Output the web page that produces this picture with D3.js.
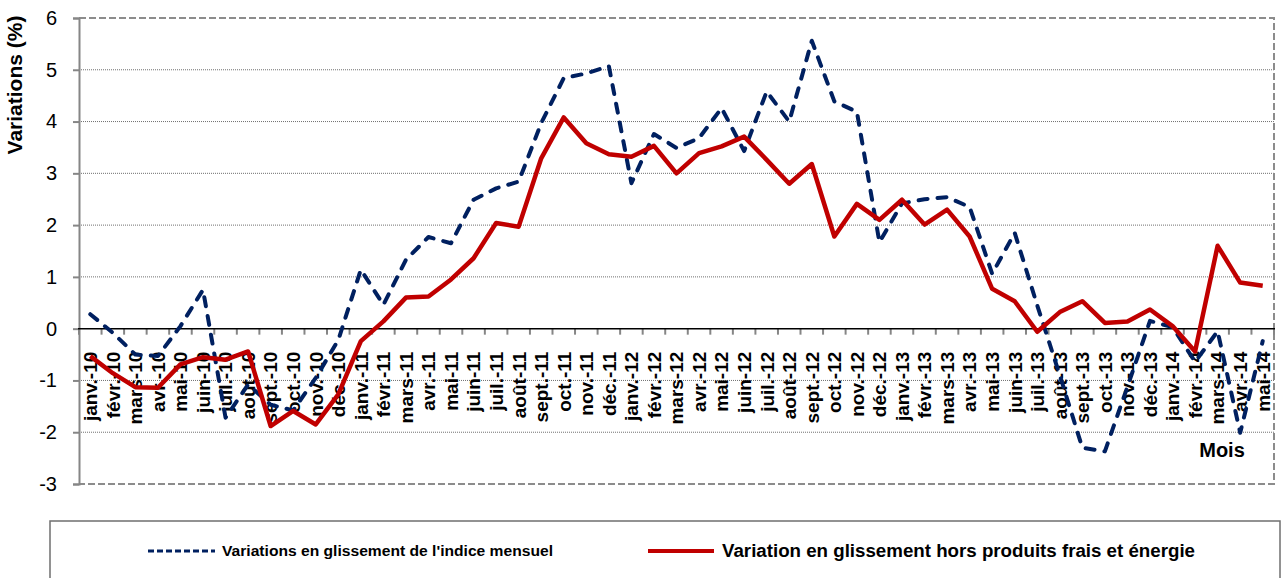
<!DOCTYPE html>
<html>
<head>
<meta charset="utf-8">
<script src="https://cdn.jsdelivr.net/npm/d3@7"></script>
<style>
    body { margin: 0; background: #fff; }
    svg { display: block; font-family: "Liberation Sans", Arial, sans-serif; }
</style>
</head>
<body>
<div id="chart"></div>
<script>
let months = ["janv.-10", "févr.-10", "mars-10", "avr.-10", "mai-10", "juin-10", "juil.-10", "août-10", "sept.-10", "oct.-10", "nov.-10", "déc.-10",
    "janv.-11", "févr.-11", "mars-11", "avr.-11", "mai-11", "juin-11", "juil.-11", "août-11", "sept.-11", "oct.-11", "nov.-11", "déc.-11",
    "janv.-12", "févr.-12", "mars-12", "avr.-12", "mai-12", "juin-12", "juil.-12", "août-12", "sept.-12", "oct.-12", "nov.-12", "déc.-12",
    "janv.-13", "févr.-13", "mars-13", "avr.-13", "mai-13", "juin-13", "juil.-13", "août-13", "sept.-13", "oct.-13", "nov.-13", "déc.-13",
    "janv.-14", "févr.-14", "mars-14", "avr.-14", "mai-14"]

// glissement de l'indice mensuel (pointillés)
let indiceMensuel = [0.28, -0.08, -0.50, -0.53, 0.05, 0.75, -1.72, -1.08, -1.47, -1.58, -0.95, -0.22,
    1.14, 0.46, 1.33, 1.77, 1.65, 2.49, 2.71, 2.84, 3.97, 4.84, 4.93, 5.07,
    2.81, 3.76, 3.49, 3.68, 4.26, 3.43, 4.58, 4.00, 5.56, 4.39, 4.19, 1.67,
    2.42, 2.50, 2.54, 2.35, 1.06, 1.85, 0.45, -0.90, -2.30, -2.37, -1.12, 0.15,
    0.03, -0.64, -0.05, -2.01, -0.24]

// hors produits frais et énergie
let horsFraisEnergie = [-0.53, -0.86, -1.13, -1.14, -0.69, -0.55, -0.60, -0.44, -1.88, -1.59, -1.85, -1.27,
    -0.24, 0.14, 0.60, 0.62, 0.95, 1.36, 2.04, 1.97, 3.29, 4.08, 3.58, 3.37,
    3.32, 3.53, 3.00, 3.39, 3.52, 3.71, 3.26, 2.80, 3.18, 1.78, 2.41, 2.10,
    2.49, 2.01, 2.30, 1.78, 0.77, 0.53, -0.06, 0.32, 0.53, 0.11, 0.14, 0.37,
    0.05, -0.44, 1.60, 0.89, 0.83]

let yTicks = [-3, -2, -1, 0, 1, 2, 3, 4, 5, 6]
let legendLabels = ["Variations en glissement de l'indice mensuel", "Variation en glissement hors produits frais et énergie"]

const width = 1286, height = 578
const margin = ({top: 18, right: 12, bottom: 94, left: 79})

const svg = d3.select('#chart').append('svg')
    .attr("width", width)
    .attr("height", height)

let xScale = d3.scaleBand()
    .domain(months)
    .range([margin.left, width - margin.right])
let yScale = d3.scaleLinear()
    .domain([-3, 6])
    .range([height - margin.bottom, margin.top])

const xc = m => xScale(m) + xScale.bandwidth() / 2

// grid
svg.append("g")
    .selectAll("line")
    .data(yTicks.filter(v => v !== 0 && v !== 6 && v !== -3))
    .join("line")
    .attr("x1", margin.left).attr("x2", width - margin.right)
    .attr("y1", d => yScale(d)).attr("y2", d => yScale(d))
    .attr("stroke", "#6f6f6f")
    .attr("stroke-width", 1)
    .attr("stroke-dasharray", "1,1")

// plot border (dashed, top/right/bottom)
svg.append("path")
    .attr("d", `M${margin.left},${yScale(6)}H${width - margin.right}V${yScale(-3)}H${margin.left}`)
    .attr("fill", "none")
    .attr("stroke", "#8c8c8c")
    .attr("stroke-width", 2)
    .attr("stroke-dasharray", "7,3")

// y axis
const yAxis = d3.axisLeft(yScale)
    .tickValues(yTicks)
    .tickSize(6)
    .tickPadding(16)
    .tickFormat(d => String(d))
const gy = svg.append("g")
    .attr("transform", `translate(${margin.left},0)`)
    .call(yAxis)
gy.select(".domain").attr("stroke", "#868686").attr("stroke-width", 2)
gy.selectAll(".tick line").attr("stroke", "#868686").attr("stroke-width", 2)
gy.selectAll(".tick text")
    .attr("font-size", 20)
    .attr("font-family", "Liberation Sans, Arial, sans-serif")
    .attr("fill", "#000")

// zero line + category ticks
let bounds = months.map(m => xScale(m)).concat([xScale.range()[1]])
svg.append("g")
    .selectAll("line")
    .data(bounds)
    .join("line")
    .attr("x1", d => d).attr("x2", d => d)
    .attr("y1", yScale(0)).attr("y2", yScale(0) + 6)
    .attr("stroke", "#868686")
    .attr("stroke-width", 2)
svg.append("line")
    .attr("x1", margin.left - 1).attr("x2", width - margin.right + 1)
    .attr("y1", yScale(0)).attr("y2", yScale(0))
    .attr("stroke", "#000")
    .attr("stroke-width", 1.5)

const xAxis = d3.axisBottom(xScale).tickSize(0)
const gx = svg.append("g")
    .attr("transform", `translate(0, ${yScale(0)})`)
    .call(xAxis)
gx.select(".domain").remove()
gx.selectAll(".tick text")
    .attr("transform", "rotate(-90)")
    .attr("text-anchor", "end")
    .attr("x", -23)
    .attr("y", 0)
    .attr("dy", "0.36em")
    .attr("font-size", 19)
    .attr("font-weight", "bold")
    .attr("font-family", "Liberation Sans, Arial, sans-serif")
    .attr("fill", "#000")

// axis titles
svg.append("text")
    .attr("transform", `translate(22, 85) rotate(-90)`)
    .attr("text-anchor", "middle")
    .attr("font-size", 21)
    .attr("font-weight", "bold")
    .text("Variations (%)")
svg.append("text")
    .attr("x", 1222).attr("y", 457)
    .attr("text-anchor", "middle")
    .attr("font-size", 20)
    .attr("font-weight", "bold")
    .text("Mois")

// series
const line = d3.line()
    .x(d => xc(d.m))
    .y(d => yScale(d.v))

svg.append("path")
    .datum(months.map((m, i) => ({m: m, v: indiceMensuel[i]})))
    .attr("fill", "none")
    .attr("stroke", "#002060")
    .attr("stroke-width", 4)
    .attr("stroke-dasharray", "9,10")
    .attr("stroke-linecap", "round")
    .attr("stroke-linejoin", "round")
    .attr("d", line)

svg.append("path")
    .datum(months.map((m, i) => ({m: m, v: horsFraisEnergie[i]})))
    .attr("fill", "none")
    .attr("stroke", "#c00000")
    .attr("stroke-width", 4.5)
    .attr("stroke-linejoin", "round")
    .attr("d", line)

// legend
const legend = svg.append("g")
legend.append("rect")
    .attr("x", 50).attr("y", 521)
    .attr("width", 1230).attr("height", 75)
    .attr("fill", "#fff")
    .attr("stroke", "#6f6f6f")
    .attr("stroke-width", 1.5)
legend.append("line")
    .attr("x1", 148).attr("x2", 215).attr("y1", 551).attr("y2", 551)
    .attr("stroke", "#002060").attr("stroke-width", 3)
    .attr("stroke-dasharray", "6,3")
legend.append("text")
    .attr("x", 222).attr("y", 556)
    .attr("font-size", 14.5).attr("font-weight", "bold")
    .attr("textLength", 331).attr("lengthAdjust", "spacingAndGlyphs")
    .text(legendLabels[0])
legend.append("line")
    .attr("x1", 648).attr("x2", 714).attr("y1", 551).attr("y2", 551)
    .attr("stroke", "#c00000").attr("stroke-width", 4)
legend.append("text")
    .attr("x", 722).attr("y", 557)
    .attr("font-size", 17.5).attr("font-weight", "bold")
    .attr("textLength", 473).attr("lengthAdjust", "spacingAndGlyphs")
    .text(legendLabels[1])
</script>
</body>
</html>
